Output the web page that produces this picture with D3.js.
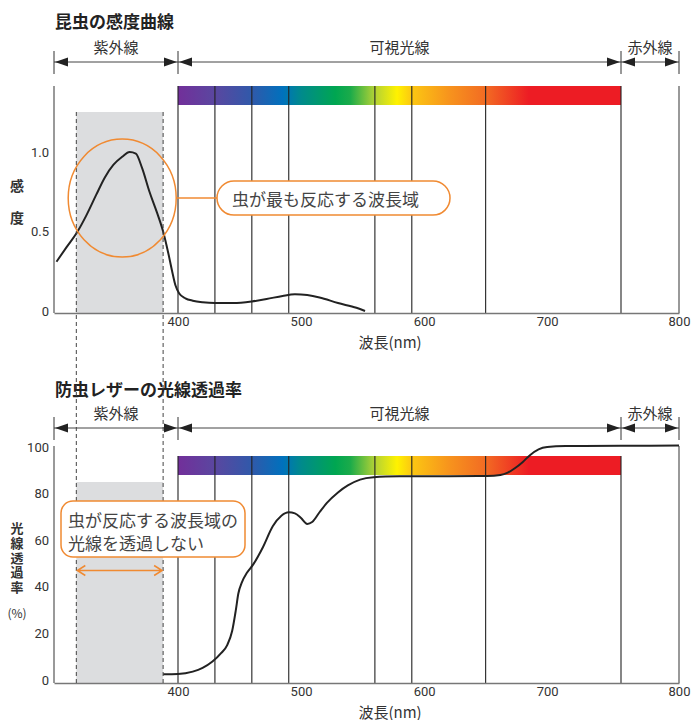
<!DOCTYPE html>
<html>
<head>
<meta charset="utf-8">
<script src="https://cdn.jsdelivr.net/npm/d3@7"></script>
<style>
  body { margin: 0; background: #fff; }
  text { font-family: "Noto Sans CJK JP", "Noto Sans", sans-serif; }
  .num text, text.num { font-family: "Liberation Sans Narrow", "Roboto", sans-serif; }
</style>
</head>
<body>
<div id="chart"></div>
<script>
// wavelength regions (nm)
const regionNames = ['紫外線', '可視光線', '赤外線'];
const regionEdges = [300, 400, 760, 800];
const bandEdges = [400, 430, 460, 490, 560, 590, 650, 760];
const xTicks = [400, 500, 600, 700, 800];
const insectBand = [318, 388];

// spectrum colours
const spectrumWl = [400, 430, 460, 485, 500, 528, 540, 560, 578, 590, 620, 650, 685, 760];
const spectrumColors = ['#722f9a', '#5a47a0', '#3059aa', '#0071bd', '#008a8c', '#00a651', '#1bab4a',
                        '#b3d235', '#fff200', '#fcc712', '#f7941d', '#f26b23', '#ed1c24', '#ed1c24'];

// insect sensitivity curve
const sensWl  = [302, 310, 319, 326, 334, 341, 348, 355, 361, 366, 371, 377, 383, 388, 392, 395, 398, 401,
                 406, 412, 420, 430, 445, 460, 472, 485, 495, 505, 515, 530, 545, 552];
const sensVal = [0.31, 0.40, 0.50, 0.60, 0.73, 0.84, 0.92, 0.97, 1.0, 0.99, 0.90, 0.75, 0.62, 0.50, 0.37, 0.26, 0.16, 0.11,
                 0.08, 0.065, 0.055, 0.05, 0.05, 0.06, 0.075, 0.095, 0.105, 0.10, 0.085, 0.05, 0.02, 0.0];
const sensTicks = [0, 0.5, 1.0];

// laser transmittance curve (%)
const transWl  = [388, 400, 412, 420, 428, 435, 440, 444, 447, 449, 452, 456, 461, 469, 477, 484, 490, 495, 500,
                  505, 509, 515, 521, 530, 538, 548, 559, 580, 620, 651, 662, 668, 674, 680, 686, 693, 700, 715, 760, 800];
const transVal = [2.5, 2.6, 3.6, 5.2, 7.9, 11.5, 15, 21, 30, 37, 42, 46, 49.5, 57, 66, 70.5, 72, 71.5, 69.5,
                  67, 67.8, 72, 76, 80.5, 83.5, 86, 87, 87.4, 87.5, 87.6, 88, 89, 91, 93.5, 96.5, 99, 100, 100.4, 100.5, 100.6];
const transTicks = [0, 20, 40, 60, 80, 100];

const w = 693;
const h = 720;
const orange = '#f08a32';

const x = d3.scaleLinear().domain(regionEdges).range([54, 178, 621, 679]);

const ySens = d3.scaleLinear().domain([0, 1]).range([311, 152]);
const yTrans = d3.scaleLinear().domain([0, 100]).range([680, 447]);

const svg = d3.select('#chart')
              .append('svg')
              .attr('width', w)
              .attr('height', h);

// gradient for the visible band
const grad = svg.append('defs').append('linearGradient')
                .attr('id', 'spectrum')
                .attr('gradientUnits', 'userSpaceOnUse')
                .attr('x1', x(400)).attr('x2', x(760))
                .attr('y1', 0).attr('y2', 0);
spectrumWl.forEach((wl, i) => {
  grad.append('stop')
      .attr('offset', (wl - 400) / 360)
      .attr('stop-color', spectrumColors[i]);
});

const panels = [
  { title: '昆虫の感度曲線', titleY: 20, arrowY: 62, labelY: 46, barY: 86, frameTop: 86, shadeTop: 112, axisY: 313,
    y: ySens, ticks: sensTicks, fmt: d => d === 0 ? '0' : d.toFixed(1), wl: sensWl, val: sensVal },
  { title: '防虫レザーの光線透過率', titleY: 388, arrowY: 428, labelY: 412, barY: 456, frameTop: 446, shadeTop: 482, axisY: 683,
    y: yTrans, ticks: transTicks, fmt: d => d, wl: transWl, val: transVal }
];

function arrowHead(g, tipX, y, dir) {
  g.append('path')
   .attr('d', `M${tipX},${y}L${tipX - dir * 13},${y - 4.5}L${tipX - dir * 13},${y + 4.5}Z`)
   .attr('fill', '#222');
}

panels.forEach(p => {
  const g = svg.append('g');

  // title
  g.append('text')
   .attr('x', 55).attr('y', p.titleY)
   .attr('dominant-baseline', 'central')
   .attr('font-size', 17).attr('font-weight', 'bold').attr('fill', '#222')
   .text(p.title);

  // region arrows
  regionNames.forEach((name, i) => {
    const x0 = x(regionEdges[i]);
    const x1 = x(regionEdges[i + 1]);
    g.append('line')
     .attr('x1', x0).attr('x2', x1)
     .attr('y1', p.arrowY).attr('y2', p.arrowY)
     .attr('stroke', '#444').attr('stroke-width', 1);
    arrowHead(g, x0 + 1, p.arrowY, -1);
    arrowHead(g, x1 - 1, p.arrowY, 1);
    g.append('text')
     .attr('x', (x0 + x1) / 2).attr('y', p.labelY)
     .attr('text-anchor', 'middle').attr('dominant-baseline', 'central')
     .attr('font-size', 15).attr('fill', '#333')
     .text(name);
  });
  regionEdges.forEach(e => {
    g.append('line')
     .attr('x1', x(e)).attr('x2', x(e))
     .attr('y1', p.arrowY - 11).attr('y2', p.arrowY + 12)
     .attr('stroke', '#333').attr('stroke-width', 1);
  });

  // shaded insect band
  g.append('rect')
   .attr('x', x(insectBand[0]))
   .attr('y', p.shadeTop)
   .attr('width', x(insectBand[1]) - x(insectBand[0]))
   .attr('height', p.axisY - p.shadeTop)
   .attr('fill', '#dcdddf');

  // spectrum bar
  g.append('rect')
   .attr('x', x(400)).attr('y', p.barY)
   .attr('width', x(760) - x(400)).attr('height', 19)
   .attr('fill', 'url(#spectrum)');

  // frame lines
  [300, 800].forEach(e => {
    g.append('line')
     .attr('x1', x(e)).attr('x2', x(e))
     .attr('y1', p.frameTop).attr('y2', p.axisY)
     .attr('stroke', '#555').attr('stroke-width', 1.2);
  });
  bandEdges.forEach(e => {
    g.append('line')
     .attr('x1', x(e)).attr('x2', x(e))
     .attr('y1', p.barY).attr('y2', p.axisY)
     .attr('stroke', '#222').attr('stroke-width', 1.1);
  });

  // x axis
  const xAxis = d3.axisBottom(x).tickValues(xTicks).tickSize(0).tickSizeOuter(0).tickPadding(4);
  const xg = g.append('g')
              .attr('class', 'num')
              .attr('transform', `translate(0, ${p.axisY})`)
              .call(xAxis);
  xg.select('.domain').attr('stroke', '#777').attr('stroke-width', 1.6);
  xg.selectAll('text').attr('font-size', 13).attr('fill', '#333');

  // y axis labels
  const yAxis = d3.axisLeft(p.y).tickValues(p.ticks).tickFormat(p.fmt).tickSize(0).tickPadding(5);
  const yg = g.append('g')
              .attr('class', 'num')
              .attr('transform', `translate(${x(300)}, 0)`)
              .call(yAxis);
  yg.select('.domain').remove();
  yg.selectAll('text').attr('font-size', 13).attr('fill', '#333');

  g.append('text')
   .attr('x', 390).attr('y', p.axisY + 28)
   .attr('text-anchor', 'middle').attr('dominant-baseline', 'central')
   .attr('font-size', 15).attr('fill', '#333')
   .text('波長(nm)');

  // curve
  const line = d3.line()
                 .x((d, i) => x(p.wl[i]))
                 .y(d => p.y(d))
                 .curve(d3.curveMonotoneX);
  g.append('path')
   .datum(p.val)
   .attr('d', line)
   .attr('fill', 'none')
   .attr('stroke', '#222')
   .attr('stroke-width', 2);
});

// dashed lines for insect band across both charts
insectBand.forEach(wl => {
  svg.append('line')
     .attr('x1', x(wl)).attr('x2', x(wl))
     .attr('y1', panels[0].shadeTop).attr('y2', panels[1].axisY)
     .attr('stroke', '#444').attr('stroke-width', 1)
     .attr('stroke-dasharray', '4,3');
});

// y axis titles
svg.append('text').attr('x', 17).attr('y', 185)
   .attr('text-anchor', 'middle').attr('dominant-baseline', 'central')
   .attr('font-size', 14).attr('font-weight', 'bold').attr('fill', '#333').text('感');
svg.append('text').attr('x', 17).attr('y', 217)
   .attr('text-anchor', 'middle').attr('dominant-baseline', 'central')
   .attr('font-size', 14).attr('font-weight', 'bold').attr('fill', '#333').text('度');

// vertical title as one text
svg.append('text')
   .attr('x', 17).attr('y', 522)
   .style('writing-mode', 'vertical-rl')
   .attr('letter-spacing', 1.6)
   .attr('font-size', 13).attr('font-weight', 'bold').attr('fill', '#333')
   .text('光線透過率');
svg.append('text').attr('x', 17).attr('y', 612)
   .attr('text-anchor', 'middle').attr('dominant-baseline', 'central')
   .attr('font-size', 12).attr('fill', '#333').text('(%)');

// top callout
const cx = x(355), cy = ySens(0.71);
svg.append('ellipse')
   .attr('cx', cx).attr('cy', cy).attr('rx', 54).attr('ry', 59)
   .attr('fill', 'none').attr('stroke', orange).attr('stroke-width', 1.5);
svg.append('line')
   .attr('x1', cx + 54).attr('x2', 217)
   .attr('y1', cy).attr('y2', cy)
   .attr('stroke', orange).attr('stroke-width', 1.5);
svg.append('rect')
   .attr('x', 217).attr('y', cy - 17).attr('width', 233).attr('height', 34).attr('rx', 17)
   .attr('fill', '#fff').attr('stroke', orange).attr('stroke-width', 1.5);
svg.append('text')
   .attr('x', 232).attr('y', cy)
   .attr('dominant-baseline', 'central')
   .attr('font-size', 17).attr('fill', '#444')
   .text('虫が最も反応する波長域');

// bottom callout
svg.append('rect')
   .attr('x', 61).attr('y', 501).attr('width', 184).attr('height', 56).attr('rx', 12)
   .attr('fill', '#fff').attr('stroke', orange).attr('stroke-width', 1.5);
svg.append('text')
   .attr('x', 68).attr('y', 519)
   .attr('dominant-baseline', 'central')
   .attr('font-size', 17).attr('fill', '#444')
   .text('虫が反応する波長域の');
svg.append('text')
   .attr('x', 68).attr('y', 542)
   .attr('dominant-baseline', 'central')
   .attr('font-size', 17).attr('fill', '#444')
   .text('光線を透過しない');

const ay = yTrans(47);
const ax0 = x(insectBand[0]) + 1, ax1 = x(insectBand[1]) - 1;
svg.append('path')
   .attr('d', `M${ax0},${ay}H${ax1}M${ax0 + 8},${ay - 5}L${ax0},${ay}L${ax0 + 8},${ay + 5}M${ax1 - 8},${ay - 5}L${ax1},${ay}L${ax1 - 8},${ay + 5}`)
   .attr('fill', 'none').attr('stroke', orange).attr('stroke-width', 1.5);
</script>
</body>
</html>
